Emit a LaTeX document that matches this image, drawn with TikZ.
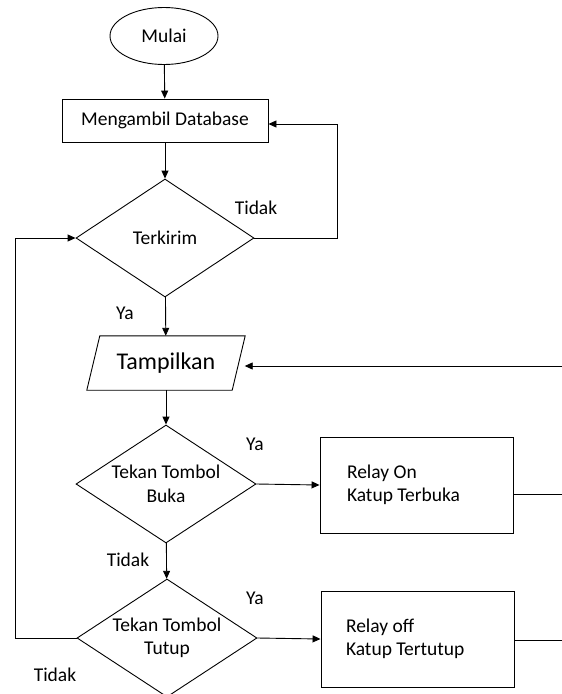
\documentclass[tikz,border=0pt]{standalone}
\usepackage{fontspec}
\setmainfont{Carlito}
\usetikzlibrary{shapes.geometric,arrows.meta}
\tikzset{
  flow/.style={draw,line width=0.9pt},
  arr/.style={line width=0.9pt,-{Triangle[length=8pt,width=7pt]}},
  lbl/.style={inner sep=0pt}
}
\begin{document}
\begin{tikzpicture}[x=1pt,y=-1pt,font=\fontsize{19.5}{23.5}\selectfont]
\useasboundingbox (0,0) rectangle (562,694);

\node[flow,ellipse,minimum width=108pt,minimum height=57pt,inner sep=0pt] (mulai) at (164,36) {Mulai};
\node[flow,rectangle,minimum width=206pt,minimum height=43pt] (ambil) at (165,120.5) {Mengambil Database};
\node[flow,diamond,aspect=1.5,minimum width=178pt,minimum height=118pt,inner sep=0pt] (kirim) at (165,238) {Terkirim};
\node[minimum width=145pt,minimum height=54pt,inner sep=0pt,font=\fontsize{24}{28}\selectfont] (tampil) at (166,363) {Tampilkan};
\draw[line width=0.9pt] ([xshift=6.5pt]tampil.north west) -- ([xshift=6.5pt]tampil.north east)
  -- ([xshift=-6.5pt]tampil.south east) -- ([xshift=-6.5pt]tampil.south west) -- cycle;
\node[flow,diamond,aspect=1.5,minimum width=180pt,minimum height=118pt,inner sep=0pt,align=center] (buka) at (166,484) {Tekan Tombol\\Buka};
\node[flow,diamond,aspect=1.5,minimum width=180pt,minimum height=118pt,inner sep=0pt,align=center] (tutup) at (167,638) {Tekan Tombol\\Tutup};

\node[flow,rectangle,minimum width=193pt,minimum height=96pt,inner xsep=27pt,text width=139pt,align=flush left] (relayon) at (416.5,485) {Relay On\\Katup Terbuka};
\node[flow,rectangle,minimum width=193pt,minimum height=96pt,inner xsep=25pt,text width=143pt,align=flush left] (relayoff) at (417.5,639) {Relay off\\Katup Tertutup};

\node[lbl] (t1) at (256,208) {Tidak};
\node[lbl] (y1) at (125,313) {Ya};
\node[lbl] (y2) at (255,444) {Ya};
\node[lbl] (t2) at (128,560) {Tidak};
\node[lbl] (y3) at (255,598) {Ya};
\node[lbl] (t3) at (55,675) {Tidak};

\coordinate (v1) at (337,124);
\coordinate (v2) at (15,637);
\coordinate (v3) at (562,366);
\coordinate (v4) at (562,494);
\coordinate (v5) at (562,640);

\draw[arr] (mulai) -- (ambil);
\draw[arr] (ambil) -- (kirim);
\draw[arr] (kirim.east) -| (v1) -- (v1 -| ambil.east);
\draw[arr] (kirim) -- (tampil);
\draw[arr] (tampil) -- (buka);
\draw[arr] (buka) -- (tutup);
\draw[arr] (buka.east) -- (relayon.west);
\draw[arr] (tutup.east) -- (relayoff.west);
\draw[arr] (tutup.west) -- (tutup.west -| v2) |- (kirim.west);
\draw[arr] (v3) -- ([xshift=6pt]v3 -| tampil.east);
\draw[line width=0.9pt] (v4 -| relayon.east) -- (v4);
\draw[line width=0.9pt] (v5 -| relayoff.east) -- (v5);
\end{tikzpicture}
\end{document}
